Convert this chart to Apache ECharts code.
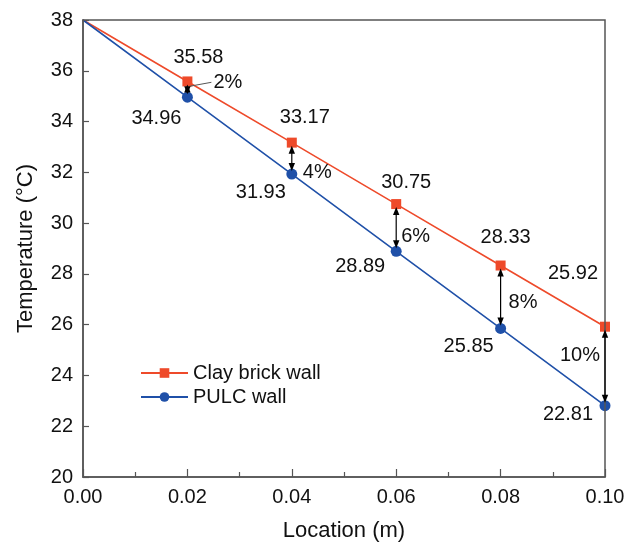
<!DOCTYPE html>
<html>
<head>
<meta charset="utf-8">
<script src="https://cdn.jsdelivr.net/npm/echarts@6/dist/echarts.min.js"></script>
<style>html,body{margin:0;padding:0;background:#fff}#c{width:640px;height:547px}</style>
</head>
<body>
<div id="c"></div>
<script>
const locations = [0, 0.02, 0.04, 0.06, 0.08, 0.10];
const clayBrick = [38, 35.58, 33.17, 30.75, 28.33, 25.92];
const pulc = [38, 34.96, 31.93, 28.89, 25.85, 22.81];
const reductionPct = ['', '2%', '4%', '6%', '8%', '10%'];
const seriesNames = ['Clay brick wall', 'PULC wall'];

// label layout (pixel offsets from marker centres)
const clayLabelOffsets = [null, [11, -24], [13, -25], [10, -22], [5, -28], [-32, -53]];
const pulcLabelOffsets = [null, [-31, 21], [-31, 18], [-36, 15], [-32, 18], [-37, 9]];
const pctLayout = [null,
  {dx: 26, dy: -7, align: 'left', leader: true},
  {dx: 11, dy: 14, align: 'left'},
  {dx: 5, dy: 9, align: 'left'},
  {dx: 8, dy: 5, align: 'left'},
  {dx: -5, dy: -11, align: 'right'}];

const RED = '#EE4A2A', BLUE = '#1F50A8', AXIS = '#555';
const FONT = 'Liberation Sans, Arial, sans-serif';
const FS = 20;

function buildData(vals, offs) {
  return locations.map((x, i) => {
    const item = {value: [x, vals[i]]};
    if (offs[i]) item.label = {show: true, position: 'inside', offset: offs[i]};
    else { item.label = {show: false}; item.symbolSize = 0; }
    return item;
  });
}

const arrowData = locations.map((x, i) => [x, clayBrick[i], pulc[i], i]).filter(d => d[3] > 0);

function arrowHead(x, y, dir) {
  const L = 8, W = 3.2;
  return {type: 'polygon', shape: {points: [[x, y], [x - W, y - dir * L], [x + W, y - dir * L]]},
    style: {fill: '#000'}, z2: 10};
}

const chart = echarts.init(document.getElementById('c'), null, {renderer: 'canvas'});
chart.setOption({
  animation: false,
  grid: {left: 83, right: 35, top: 20, bottom: 68, show: true, borderColor: AXIS, borderWidth: 1.5, z: 5},
  legend: {
    left: 135, top: 358, orient: 'vertical', itemWidth: 47, itemHeight: 12, itemGap: 4,
    textStyle: {fontFamily: FONT, fontSize: FS, color: '#111'},
    data: seriesNames
  },
  xAxis: {
    type: 'value', min: 0, max: 0.1, interval: 0.02,
    name: 'Location (m)', nameLocation: 'middle', nameGap: 43,
    nameTextStyle: {fontFamily: FONT, fontSize: 22, color: '#111'},
    axisLine: {show: true, lineStyle: {color: AXIS, width: 1.5}},
    axisTick: {show: true, inside: true, length: 8, lineStyle: {color: AXIS, width: 1.2}},
    minorTick: {show: true, splitNumber: 2, length: 5, lineStyle: {color: AXIS, width: 1.2}},
    axisLabel: {fontFamily: FONT, fontSize: FS, color: '#111', margin: 10, formatter: v => v.toFixed(2)},
    splitLine: {show: false}
  },
  yAxis: {
    type: 'value', min: 20, max: 38, interval: 2,
    name: 'Temperature (°C)', nameLocation: 'middle', nameGap: 46,
    nameTextStyle: {fontFamily: FONT, fontSize: 22, color: '#111'},
    axisLine: {show: true, lineStyle: {color: AXIS, width: 1.5}},
    axisTick: {show: true, inside: true, length: 6, lineStyle: {color: AXIS, width: 1.2}},
    axisLabel: {fontFamily: FONT, fontSize: FS, color: '#111', margin: 10},
    splitLine: {show: false}
  },
  series: [
    {
      name: seriesNames[0], type: 'line', clip: false,
      data: buildData(clayBrick, clayLabelOffsets),
      symbol: 'rect', symbolSize: 10,
      lineStyle: {color: RED, width: 1.6}, itemStyle: {color: RED},
      label: {fontFamily: FONT, fontSize: FS, color: '#111', formatter: p => p.value[1].toFixed(2)},
      z: 3
    },
    {
      name: seriesNames[1], type: 'line', clip: false,
      data: buildData(pulc, pulcLabelOffsets),
      symbol: 'circle', symbolSize: 11,
      lineStyle: {color: BLUE, width: 1.6}, itemStyle: {color: BLUE},
      label: {fontFamily: FONT, fontSize: FS, color: '#111', formatter: p => p.value[1].toFixed(2)},
      z: 3
    },
    {
      type: 'custom', clip: false, z: 10,
      data: arrowData,
      renderItem: function (params, api) {
        const x = api.value(0), a = api.value(1), b = api.value(2), idx = api.value(3);
        const p1 = api.coord([x, a]), p2 = api.coord([x, b]);
        const y1 = p1[1] + 3, y2 = p2[1] - 3;
        const midY = (p1[1] + p2[1]) / 2;
        const lay = pctLayout[idx];
        const children = [
          {type: 'line', shape: {x1: p1[0], y1: y1 + 4, x2: p2[0], y2: y2 - 4}, style: {stroke: '#000', lineWidth: 1.2}},
          arrowHead(p1[0], y1, -1),
          arrowHead(p2[0], y2, 1),
          {type: 'text', x: p1[0] + lay.dx, y: midY + lay.dy,
            style: {text: reductionPct[idx], fontFamily: FONT, fontSize: FS, fill: '#111',
              align: lay.align, verticalAlign: 'middle'}}
        ];
        if (lay.leader) {
          children.push({type: 'line', shape: {x1: p1[0] + 2, x2: p1[0] + lay.dx - 2, y1: midY - 3, y2: midY + lay.dy},
            style: {stroke: '#555', lineWidth: 1}});
        }
        return {type: 'group', children: children};
      }
    }
  ]
});
</script>
</body>
</html>
